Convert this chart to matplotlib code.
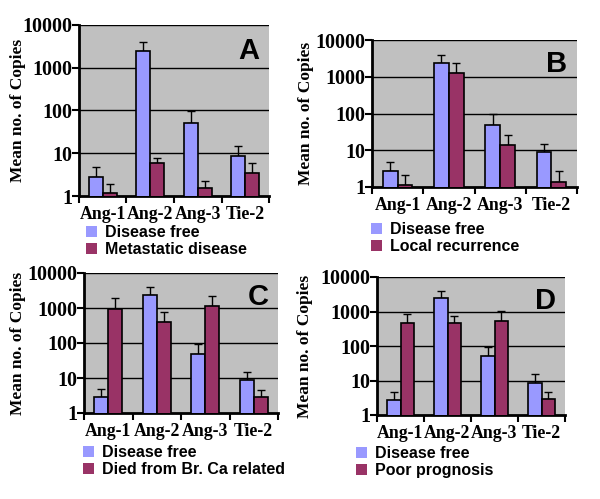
import matplotlib
matplotlib.use("Agg")
import matplotlib.pyplot as plt
from matplotlib.patches import Patch
import numpy as np

categories = ["Ang-1", "Ang-2", "Ang-3", "Tie-2"]
free_mean = [2.8, 2400, 50, 8.7]
free_top = [4.7, 3900, 95, 15]

series_names = ["Metastatic disease", "Local recurrence", "Died from Br. Ca related", "Poor prognosis"]
series_mean = [
    [1.2, 6.0, 1.5, 3.5],
    [1.1, 1250, 14, 1.4],
    [950, 400, 1150, 2.8],
    [450, 450, 520, 3.0],
]
series_top = [
    [1.9, 7.8, 2.3, 5.8],
    [2.1, 2400, 26, 2.7],
    [1900, 780, 2200, 4.5],
    [850, 750, 1050, 4.6],
]
panel_letters = ["A", "B", "C", "D"]
ytick_vals = [1, 10, 100, 1000, 10000]
ytick_labels = ["1", "10", "100", "1000", "10000"]

W, H = 600, 499
# pixel boxes: left, top, right, bottom
boxes = [(79, 25, 269, 196), (372, 40, 577, 187), (84, 273, 278, 413), (377, 277, 565, 415)]
ylabel_x = [26, 314, 26, 313]
legend_pos = [(86, 234), (371, 231), (83, 454), (356, 455)]

blue = "#9999FF"
red = "#993366"

fig = plt.figure(figsize=(W / 100, H / 100), dpi=100)
serif = "Liberation Serif"
sans = "Liberation Sans"

for i in range(4):
    l, t, r, b = boxes[i]
    ax = fig.add_axes([l / W, 1 - b / H, (r - l) / W, (b - t) / H])
    ax.set_facecolor("#C0C0C0")
    ax.set_yscale("log")
    ax.set_ylim(1, 10000)
    ax.set_xlim(0, 4)
    x = np.arange(len(categories)) + 0.5
    bw = 0.29
    fm = np.array(free_mean)
    sm = np.array(series_mean[i])
    ax.bar(x - bw / 2, fm, width=bw, color=blue, edgecolor="black", linewidth=1.2, zorder=3)
    ax.bar(x + bw / 2, sm, width=bw, color=red, edgecolor="black", linewidth=1.2, zorder=3)
    ax.errorbar(x - bw / 2, fm, yerr=[np.zeros(4), np.array(free_top) - fm], fmt="none",
                ecolor="black", elinewidth=1, capsize=3, capthick=1, zorder=2)
    ax.errorbar(x + bw / 2, sm, yerr=[np.zeros(4), np.array(series_top[i]) - sm], fmt="none",
                ecolor="black", elinewidth=1, capsize=3, capthick=1, zorder=2)
    for v in ytick_vals[1:]:
        ax.axhline(v, color="black", linewidth=1, zorder=1)
    ax.yaxis.set_major_locator(matplotlib.ticker.FixedLocator(ytick_vals))
    ax.yaxis.set_minor_locator(matplotlib.ticker.NullLocator())
    ax.set_yticks(ytick_vals)
    ax.set_yticklabels(ytick_labels, fontfamily=serif, fontweight="bold", fontsize=14.5)
    ax.set_xticks([0, 1, 2, 3, 4])
    ax.set_xticklabels([])
    ax.set_xticks(x, minor=True)
    ax.set_xticklabels(categories, minor=True, fontfamily=serif, fontweight="bold", fontsize=12.8)
    ax.tick_params(axis="x", which="minor", length=0, pad=7)
    ax.tick_params(axis="x", which="major", length=5, width=1.5, direction="out")
    ax.tick_params(axis="y", which="major", length=5, width=1.5, direction="out", pad=0)
    for s in ["top", "right"]:
        ax.spines[s].set_visible(False)
    for s in ["left", "bottom"]:
        ax.spines[s].set_linewidth(2)
    ax.set_ylabel("Mean no. of Copies", fontfamily=serif, fontweight="bold", fontsize=12.5)
    ax.yaxis.set_label_coords((ylabel_x[i] - l) / (r - l), 0.5)
    ax.text(0.95, 0.93, panel_letters[i], transform=ax.transAxes, ha="right", va="top",
            fontfamily=sans, fontweight="bold", fontsize=21, zorder=5)
    lx, ly = legend_pos[i]
    handles = [Patch(facecolor=blue, edgecolor="none"), Patch(facecolor=red, edgecolor="none")]
    fig.legend(handles, ["Disease free", series_names[i]], loc="upper left",
               bbox_to_anchor=(lx / W, 1 - (ly - 9) / H), frameon=False,
               prop={"family": sans, "weight": "bold", "size": 11.5},
               handlelength=0.7, handleheight=0.7, handletextpad=0.5, labelspacing=0.15,
               borderpad=0, borderaxespad=0)

fig.savefig("out.png", dpi=100)
